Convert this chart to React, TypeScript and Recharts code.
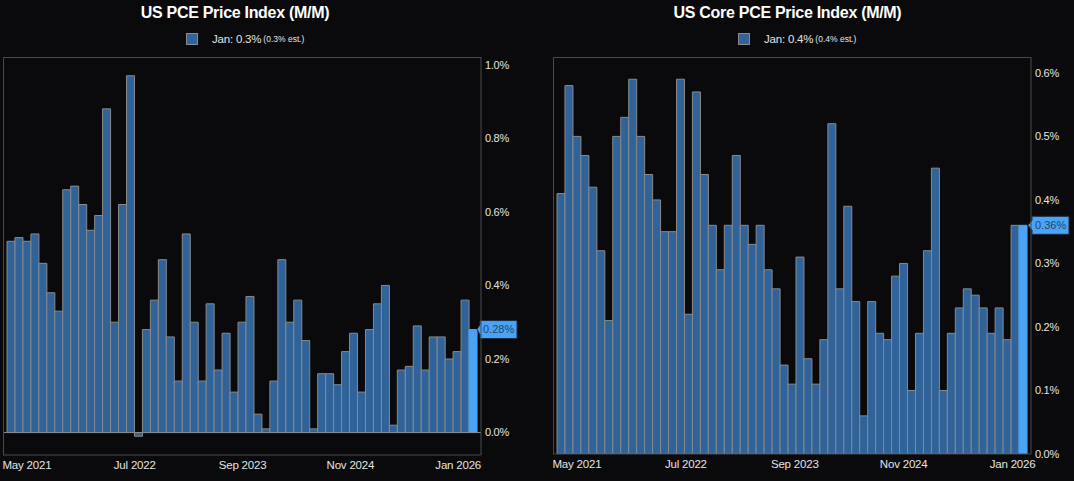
import React from "react";
import {
  BarChart,
  Bar,
  Cell,
  XAxis,
  YAxis,
  ReferenceLine,
} from "recharts";

const BG = "#0a0a0c";
const BAR_FILL = "#2f6399";
const BAR_STROKE = "#8a8a8a";
const LAST_FILL = "#4aa3f5";
const FRAME = "#4a4a4e";
const TEXT = "#e4e4e4";
const FONT = '"Liberation Sans", Arial, sans-serif';

// Mar 2021 .. Jan 2026
const MONTH_NAMES = ["Jan", "Feb", "Mar", "Apr", "May", "Jun", "Jul", "Aug", "Sep", "Oct", "Nov", "Dec"];
const months: string[] = [];
for (let i = 0; i < 59; i++) {
  const m = (2 + i) % 12;
  const y = 2021 + Math.floor((2 + i) / 12);
  months.push(`${MONTH_NAMES[m]} ${y}`);
}

const xTicks = ["May 2021", "Jul 2022", "Sep 2023", "Nov 2024", "Jan 2026"];

const pce = [
  0.52, 0.53, 0.52, 0.54, 0.46, 0.38, 0.33, 0.66, 0.67, 0.62,
  0.55, 0.59, 0.88, 0.3, 0.62, 0.97, -0.01, 0.28, 0.36, 0.47,
  0.26, 0.14, 0.54, 0.3, 0.14, 0.35, 0.17, 0.27, 0.11, 0.3,
  0.37, 0.05, 0.01, 0.14, 0.47, 0.3, 0.36, 0.25, 0.01, 0.16,
  0.16, 0.13, 0.22, 0.27, 0.11, 0.28, 0.35, 0.4, 0.02, 0.17,
  0.18, 0.29, 0.17, 0.26, 0.26, 0.2, 0.22, 0.36, 0.28,
];

const corePce = [
  0.41, 0.58, 0.5, 0.47, 0.42, 0.32, 0.21, 0.5, 0.53, 0.59,
  0.5, 0.44, 0.4, 0.35, 0.35, 0.59, 0.22, 0.57, 0.44, 0.36,
  0.29, 0.36, 0.47, 0.36, 0.33, 0.36, 0.29, 0.26, 0.14, 0.11,
  0.31, 0.15, 0.11, 0.18, 0.52, 0.26, 0.39, 0.24, 0.06, 0.24,
  0.19, 0.18, 0.28, 0.3, 0.1, 0.19, 0.32, 0.45, 0.1, 0.19,
  0.23, 0.26, 0.25, 0.23, 0.19, 0.23, 0.18, 0.36, 0.36,
];

const pceTicks = [0, 0.2, 0.4, 0.6, 0.8, 1.0];
const coreTicks = [0, 0.1, 0.2, 0.3, 0.4, 0.5, 0.6];

const pceData = months.map((month, i) => ({ month, value: pce[i] }));
const coreData = months.map((month, i) => ({ month, value: corePce[i] }));

function XTick({ x, y, payload, index, step }: any) {
  return (
    <text
      x={x - index * step}
      y={y}
      dy="0.71em"
      textAnchor="middle"
      fill={TEXT}
      fontSize={11.5}
      letterSpacing={-0.2}
      fontFamily={FONT}
    >
      {payload.value}
    </text>
  );
}

function PriceTag({ viewBox, text, tipIn, gap }: any) {
  if (!viewBox) return null;
  const right = viewBox.x + viewBox.width;
  const cy = viewBox.y;
  const tip = right - tipIn;
  const l = right + gap;
  const r = l + 37;
  const h = 9;
  const d = `M${tip},${cy} L${l},${cy - 5} L${l},${cy - h} L${r},${cy - h} L${r},${cy + h} L${l},${cy + h} L${l},${cy + 5} Z`;
  return (
    <g>
      <path d={d} fill={LAST_FILL} stroke="#1c2c40" strokeWidth={1} />
      <text x={l + 3} y={cy} dy="0.35em" fill="#24466e" fontSize={11} fontFamily={FONT}>
        {text}
      </text>
    </g>
  );
}

function Panel(props: {
  left: number;
  width: number;
  title: string;
  titleWidth: number;
  legendLeft: number;
  legendMain: string;
  legendEst: string;
  data: { month: string; value: number }[];
  domain: [number, number];
  ticks: number[];
  marginLeft: number;
  yWidth: number;
  xHeight: number;
  zeroLine: boolean;
  tag: string;
  tipIn: number;
  gap: number;
  tickStep: number;
}) {
  const p = props;
  const plotLeft = p.marginLeft;
  const plotRight = p.width - p.yWidth;
  const plotTop = 57;
  const plotBottom = 481 - p.xHeight;
  const last = p.data[p.data.length - 1].value;
  return (
    <div style={{ position: "absolute", left: p.left, top: 0, width: p.width, height: 481 }}>
      <div
        style={{
          position: "absolute",
          left: 0,
          top: 4,
          width: p.titleWidth,
          textAlign: "center",
          color: "#ffffff",
          fontFamily: FONT,
          fontWeight: "bold",
          fontSize: 16,
          letterSpacing: -0.3,
          lineHeight: "18px",
        }}
      >
        {p.title}
      </div>
      <div
        style={{
          position: "absolute",
          left: p.legendLeft,
          top: 32,
          height: 14,
          display: "flex",
          alignItems: "center",
          fontFamily: FONT,
          color: TEXT,
          whiteSpace: "nowrap",
        }}
      >
        <div
          style={{
            width: 10,
            height: 10,
            background: BAR_FILL,
            border: `1px solid ${BAR_STROKE}`,
            marginRight: 14,
          }}
        />
        <span style={{ fontSize: 11.5, letterSpacing: -0.2 }}>{p.legendMain}</span>
        <span style={{ fontSize: 8.5, marginLeft: 2 }}>{p.legendEst}</span>
      </div>
      <div style={{ position: "absolute", left: 0, top: 0 }}>
        <BarChart
          width={p.width}
          height={481}
          data={p.data}
          margin={{ top: plotTop, right: 0, bottom: 0, left: p.marginLeft }}
          barCategoryGap={0}
        >
          <XAxis
            dataKey="month"
            ticks={xTicks}
            interval={0}
            height={p.xHeight}
            padding={{ left: 4, right: 4 }}
            axisLine={{ stroke: FRAME }}
            tickLine={false}
            tickSize={0}
            tickMargin={6}
            tick={<XTick step={p.tickStep} />}
          />
          <YAxis
            orientation="right"
            type="number"
            domain={p.domain}
            allowDataOverflow
            ticks={p.ticks}
            width={p.yWidth}
            axisLine={{ stroke: FRAME }}
            tickLine={false}
            tickSize={0}
            tickMargin={4}
            tick={{ fill: TEXT, fontSize: 11, fontFamily: FONT, letterSpacing: -0.3 }}
            tickFormatter={(v) => `${Number(v).toFixed(1)}%`}
          />
          {p.zeroLine && <ReferenceLine y={0} stroke={BAR_STROKE} strokeWidth={1} />}
          <Bar dataKey="value" fill={BAR_FILL} stroke={BAR_STROKE} strokeWidth={1} isAnimationActive={false}>
            {p.data.map((d, i) =>
              i === p.data.length - 1 ? (
                <Cell key={d.month} fill={LAST_FILL} stroke={LAST_FILL} />
              ) : (
                <Cell key={d.month} fill={BAR_FILL} stroke={BAR_STROKE} />
              )
            )}
          </Bar>
          <ReferenceLine
            y={last}
            stroke="none"
            label={<PriceTag text={p.tag} tipIn={p.tipIn} gap={p.gap} />}
          />
        </BarChart>
      </div>
      <div
        style={{
          position: "absolute",
          left: plotLeft,
          top: plotTop,
          width: plotRight - plotLeft,
          height: plotBottom - plotTop,
          borderTop: `1px solid ${FRAME}`,
          borderLeft: `1px solid ${FRAME}`,
          boxSizing: "border-box",
          pointerEvents: "none",
        }}
      />
    </div>
  );
}

export default function App() {
  return (
    <div
      style={{
        position: "absolute",
        left: 0,
        top: 0,
        width: 1074,
        height: 481,
        background: BG,
        overflow: "hidden",
      }}
    >
      <Panel
        left={0}
        width={540}
        title="US PCE Price Index (M/M)"
        titleWidth={470}
        legendLeft={186}
        legendMain="Jan: 0.3%"
        legendEst="(0.3% est.)"
        data={pceData}
        domain={[-0.061, 1.021]}
        ticks={pceTicks}
        marginLeft={3}
        yWidth={59}
        xHeight={26}
        zeroLine
        tag="0.28%"
        tipIn={4}
        gap={-1}
        tickStep={3.7}
      />
      <Panel
        left={540}
        width={534}
        title="US Core PCE Price Index (M/M)"
        titleWidth={495}
        legendLeft={198}
        legendMain="Jan: 0.4%"
        legendEst="(0.4% est.)"
        data={coreData}
        domain={[0, 0.625]}
        ticks={coreTicks}
        marginLeft={13}
        yWidth={43}
        xHeight={27}
        zeroLine={false}
        tag="0.36%"
        tipIn={3}
        gap={1}
        tickStep={2.6}
      />
    </div>
  );
}
